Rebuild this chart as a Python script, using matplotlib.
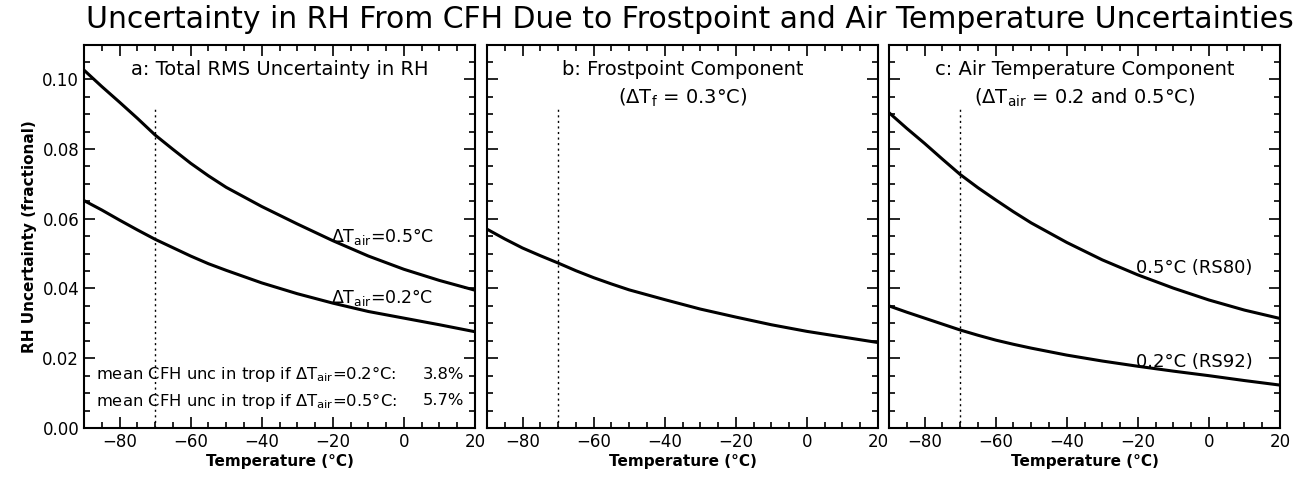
import matplotlib
matplotlib.use('Agg')
import matplotlib.pyplot as plt
from matplotlib.ticker import MultipleLocator

temp = [-90, -85, -80, -75, -70, -65, -60, -55, -50, -40, -30, -20, -10, 0, 10, 20]

# panel a: total RMS uncertainty
total_05 = [0.1026, 0.0979, 0.0934, 0.0888, 0.0840, 0.0799, 0.0759, 0.0723, 0.0690,
            0.0635, 0.0585, 0.0537, 0.0493, 0.0455, 0.0423, 0.0395]
total_02 = [0.0652, 0.0625, 0.0596, 0.0568, 0.0541, 0.0517, 0.0493, 0.0471, 0.0452,
            0.0416, 0.0385, 0.0358, 0.0334, 0.0315, 0.0296, 0.0276]
# panel b: frostpoint component
frost = [0.0570, 0.0542, 0.0516, 0.0494, 0.0473, 0.0451, 0.0431, 0.0413, 0.0396,
         0.0368, 0.0341, 0.0318, 0.0296, 0.0277, 0.0261, 0.0245]
# panel c: air temperature component
air_05 = [0.0904, 0.0859, 0.0816, 0.0771, 0.0727, 0.0689, 0.0654, 0.0620, 0.0588,
          0.0532, 0.0482, 0.0439, 0.0401, 0.0367, 0.0338, 0.0314]
air_02 = [0.0350, 0.0332, 0.0315, 0.0298, 0.0281, 0.0266, 0.0252, 0.0240, 0.0229,
          0.0209, 0.0192, 0.0177, 0.0163, 0.0150, 0.0136, 0.0123]

trop_temp = -70
trop_top = 0.092
mean_unc = ['3.8%', '5.7%']

plt.rcParams['font.family'] = 'DejaVu Sans'
fig = plt.figure(figsize=(13.01, 4.84), dpi=100)

lefts = [84, 487, 889]
axes = []
for i, l in enumerate(lefts):
    ax = fig.add_axes([l / 1301, 1 - 428 / 484, 391 / 1301, 383 / 484])
    ax.set_xlim(-90, 20)
    ax.set_ylim(0, 0.1098)
    ax.xaxis.set_major_locator(MultipleLocator(20))
    ax.xaxis.set_minor_locator(MultipleLocator(5))
    ax.yaxis.set_major_locator(MultipleLocator(0.02))
    ax.yaxis.set_minor_locator(MultipleLocator(0.005))
    ax.tick_params(which='both', direction='in', top=True, right=True, width=1.2, labelsize=12)
    ax.tick_params(which='major', length=8)
    ax.tick_params(which='minor', length=4)
    ax.xaxis.set_major_formatter(plt.FuncFormatter(lambda v, p: f'{v:.0f}'.replace('-', '\u2212')))
    if i == 0:
        ax.yaxis.set_major_formatter(plt.FuncFormatter(lambda v, p: f'{v:.2f}'))
        ax.set_ylabel('RH Uncertainty (fractional)', fontsize=11, fontweight='bold')
    else:
        ax.set_yticklabels([])
    ax.set_xlabel('Temperature (°C)', fontsize=11, fontweight='bold', labelpad=2)
    for s in ax.spines.values():
        s.set_linewidth(1.5)
    ax.plot([trop_temp, trop_temp], [0, trop_top], color='black', lw=1, linestyle=(0, (1.5, 2.5)))
    axes.append(ax)

ax1, ax2, ax3 = axes
lw = 2.2
ax1.plot(temp, total_05, color='black', lw=lw, solid_joinstyle='round')
ax1.plot(temp, total_02, color='black', lw=lw, solid_joinstyle='round')
ax1.text(-35, 0.1027, 'a: Total RMS Uncertainty in RH', ha='center', va='center', fontsize=14)
ax1.text(-20.5, 0.0549, r'$\mathregular{\Delta T_{air}}$=0.5°C', ha='left', va='center', fontsize=12.5)
ax1.text(-20.5, 0.0375, r'$\mathregular{\Delta T_{air}}$=0.2°C', ha='left', va='center', fontsize=12.5)
ax1.text(-86.5, 0.0154, r'mean CFH unc in trop if $\mathregular{\Delta T_{air}}$=0.2°C:', ha='left', va='center', fontsize=11.8)
ax1.text(16.8, 0.0154, mean_unc[0], ha='right', va='center', fontsize=11.8)
ax1.text(-86.5, 0.0078, r'mean CFH unc in trop if $\mathregular{\Delta T_{air}}$=0.5°C:', ha='left', va='center', fontsize=11.8)
ax1.text(16.8, 0.0078, mean_unc[1], ha='right', va='center', fontsize=11.8)

ax2.plot(temp, frost, color='black', lw=lw, solid_joinstyle='round')
ax2.text(-35, 0.1027, 'b: Frostpoint Component', ha='center', va='center', fontsize=14)
ax2.text(-35, 0.0946, r'($\mathregular{\Delta T_f}$ = 0.3°C)', ha='center', va='center', fontsize=14)

ax3.plot(temp, air_05, color='black', lw=lw, solid_joinstyle='round')
ax3.plot(temp, air_02, color='black', lw=lw, solid_joinstyle='round')
ax3.text(-35, 0.1027, 'c: Air Temperature Component', ha='center', va='center', fontsize=14)
ax3.text(-35, 0.0946, r'($\mathregular{\Delta T_{air}}$ = 0.2 and 0.5°C)', ha='center', va='center', fontsize=14)
ax3.text(-20.5, 0.0458, '0.5°C (RS80)', ha='left', va='center', fontsize=13)
ax3.text(-20.5, 0.0190, '0.2°C (RS92)', ha='left', va='center', fontsize=13)

fig.text(0.530, 0.942, 'Uncertainty in RH From CFH Due to Frostpoint and Air Temperature Uncertainties',
         ha='center', va='baseline', fontsize=21.5)

fig.savefig('out.png', dpi=100)
